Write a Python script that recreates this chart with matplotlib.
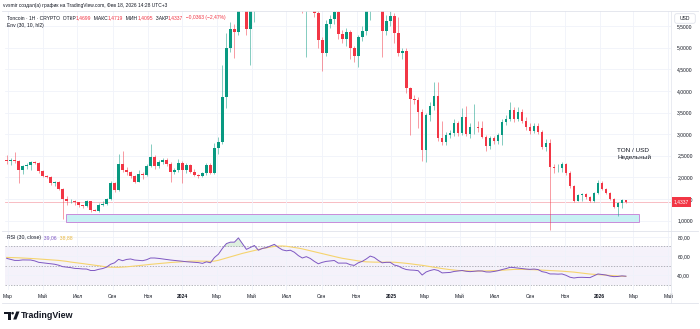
import matplotlib
matplotlib.use('Agg')
import matplotlib.pyplot as plt
import matplotlib.dates as mdates
import matplotlib.transforms as mtrans
from matplotlib.patches import Rectangle, Circle, Polygon, FancyBboxPatch
import numpy as np
import pandas as pd

plt.rcParams['font.family'] = ['Liberation Sans', 'DejaVu Sans']

# ---------------- data (weekly TON/USD) ----------------
first_week = '2023-02-27'
opens = [2.40, 2.38, 2.39, 2.37, 2.17, 2.26, 2.28, 2.35, 2.34, 2.14,
         2.04, 2.01, 1.86, 1.88, 1.74, 1.50, 1.44, 1.45, 1.42, 1.35,
         1.33, 1.45, 1.25, 1.23, 1.37, 1.39, 1.50, 1.87, 1.71, 2.31,
         2.17, 2.12, 2.03, 1.90, 2.08, 2.06, 2.26, 2.48, 2.26, 2.35,
         2.40, 2.31, 2.13, 2.16, 2.32, 2.17, 2.28, 2.13, 2.05, 2.02,
         2.09, 2.28, 2.11, 2.68, 2.82, 3.87, 4.99, 5.43, 5.37, 5.95,
         6.40, 5.43, 6.20, 6.50, 6.40, 6.50, 6.60, 7.20, 7.70, 7.50,
         7.30, 7.00, 7.40, 7.20, 6.80, 6.30, 6.40, 6.50, 5.80, 5.18,
         4.88, 5.56, 5.66, 5.83, 5.31, 5.20, 5.37, 5.00, 4.81, 5.25,
         5.39, 6.20, 6.40, 6.20, 5.95, 5.39, 5.62, 5.73, 5.33, 4.87,
         4.93, 4.06, 3.81, 3.78, 3.52, 2.63, 3.44, 3.66, 3.88, 2.91,
         2.82, 2.98, 3.02, 3.26, 3.02, 3.40, 3.00, 3.16, 3.17, 3.15,
         2.94, 2.72, 2.90, 2.85, 2.98, 3.29, 3.36, 3.56, 3.34, 3.52,
         3.31, 3.17, 3.08, 3.19, 3.06, 2.71, 2.79, 2.25, 2.21, 2.22,
         2.31, 2.11, 1.80, 1.46, 1.59, 1.61, 1.55, 1.44, 1.64, 1.86,
         1.73, 1.64, 1.49, 1.32, 1.40, 1.4699]
highs = [2.52, 2.44, 2.58, 2.40, 2.29, 2.33, 2.37, 2.37, 2.36, 2.16,
         2.06, 2.03, 1.92, 1.91, 1.76, 1.56, 1.49, 1.47, 1.43, 1.37,
         1.48, 1.46, 1.27, 1.40, 1.45, 1.53, 1.92, 1.90, 2.54, 2.60,
         2.25, 2.15, 2.06, 2.16, 2.12, 2.30, 2.77, 2.52, 2.40, 2.45,
         2.44, 2.36, 2.22, 2.43, 2.38, 2.33, 2.30, 2.20, 2.08, 2.12,
         2.32, 2.33, 2.80, 2.94, 4.60, 5.34, 5.60, 5.55, 7.20, 6.80,
         6.50, 6.50, 6.90, 6.80, 6.80, 6.90, 7.50, 8.10, 8.20, 7.90,
         7.60, 7.60, 7.70, 7.40, 7.10, 6.60, 6.80, 7.00, 5.95, 5.25,
         5.65, 5.75, 5.95, 5.95, 5.40, 5.45, 5.42, 5.05, 5.30, 5.50,
         6.60, 6.90, 6.70, 6.40, 6.00, 5.75, 5.85, 5.80, 5.70, 5.00,
         5.00, 4.10, 3.90, 3.85, 3.58, 3.50, 3.75, 4.21, 4.21, 3.30,
         3.05, 3.10, 3.35, 3.30, 3.60, 3.65, 3.25, 3.70, 3.30, 3.30,
         2.98, 2.95, 2.95, 3.02, 3.35, 3.45, 3.75, 3.62, 3.62, 3.58,
         3.40, 3.25, 3.25, 3.25, 3.10, 2.88, 2.88, 2.30, 2.30, 2.35,
         2.33, 2.15, 1.83, 1.62, 1.63, 1.63, 1.57, 1.66, 1.94, 1.92,
         1.75, 1.66, 1.51, 1.43, 1.50, 1.4719]
lows = [2.30, 2.28, 2.33, 1.87, 2.08, 2.20, 2.18, 2.30, 2.10, 2.00,
        1.98, 1.83, 1.80, 1.70, 1.04, 1.36, 1.40, 1.36, 1.32, 1.30,
        1.31, 1.20, 1.21, 1.20, 1.34, 1.36, 1.48, 1.66, 1.69, 2.12,
        2.05, 1.98, 1.87, 1.88, 1.96, 2.03, 2.24, 2.20, 2.22, 2.30,
        2.27, 1.90, 2.08, 2.12, 1.87, 2.10, 2.10, 2.02, 1.99, 2.00,
        2.05, 2.08, 2.08, 2.55, 2.78, 3.60, 4.90, 4.76, 5.30, 5.85,
        5.30, 4.60, 5.60, 6.00, 6.10, 6.20, 6.40, 6.90, 7.00, 6.90,
        6.40, 6.50, 6.90, 6.40, 5.80, 4.79, 6.00, 5.70, 5.00, 4.47,
        4.80, 5.45, 5.55, 5.20, 5.10, 5.05, 4.75, 4.68, 4.56, 5.15,
        5.30, 5.65, 5.90, 5.85, 4.79, 5.30, 5.50, 5.10, 4.80, 4.75,
        3.95, 2.98, 3.70, 3.14, 2.38, 2.36, 3.30, 3.55, 2.85, 2.75,
        2.75, 2.90, 2.95, 2.95, 2.98, 2.95, 2.92, 3.00, 3.05, 2.90,
        2.62, 2.65, 2.78, 2.78, 2.75, 3.20, 3.30, 3.28, 3.30, 3.25,
        3.10, 3.00, 3.02, 3.00, 2.65, 2.60, 0.78, 2.10, 2.12, 2.12,
        2.05, 1.76, 1.43, 1.44, 1.46, 1.50, 1.42, 1.42, 1.62, 1.70,
        1.62, 1.47, 1.30, 1.11, 1.30, 1.4095]
closes = [2.38, 2.39, 2.37, 2.17, 2.26, 2.28, 2.35, 2.34, 2.14, 2.04,
          2.01, 1.86, 1.88, 1.74, 1.50, 1.44, 1.45, 1.42, 1.35, 1.33,
          1.45, 1.25, 1.23, 1.37, 1.39, 1.50, 1.87, 1.71, 2.31, 2.17,
          2.12, 2.03, 1.90, 2.08, 2.06, 2.26, 2.48, 2.26, 2.35, 2.40,
          2.31, 2.13, 2.16, 2.32, 2.17, 2.28, 2.13, 2.05, 2.02, 2.09,
          2.28, 2.11, 2.68, 2.82, 3.87, 4.99, 5.43, 5.37, 5.95, 6.40,
          5.43, 6.20, 6.50, 6.40, 6.50, 6.60, 7.20, 7.70, 7.50, 7.30,
          7.00, 7.40, 7.20, 6.80, 6.30, 6.40, 6.50, 5.80, 5.18, 4.88,
          5.56, 5.66, 5.83, 5.31, 5.20, 5.37, 5.00, 4.81, 5.25, 5.39,
          6.20, 6.40, 6.20, 5.95, 5.39, 5.62, 5.73, 5.33, 4.87, 4.93,
          4.06, 3.81, 3.78, 3.52, 2.63, 3.44, 3.66, 3.88, 2.91, 2.82,
          2.98, 3.02, 3.26, 3.02, 3.40, 3.00, 3.16, 3.17, 3.15, 2.94,
          2.72, 2.90, 2.85, 2.98, 3.29, 3.36, 3.56, 3.34, 3.52, 3.31,
          3.17, 3.08, 3.19, 3.06, 2.71, 2.79, 2.25, 2.21, 2.22, 2.31,
          2.11, 1.80, 1.46, 1.59, 1.61, 1.55, 1.44, 1.64, 1.86, 1.73,
          1.64, 1.49, 1.32, 1.40, 1.4699, 1.4337]
rsi = [57.6, 56.5, 55.5, 55.5, 56.0, 56.0, 55.9, 55.0, 53.5, 53.0,
       52.5, 52.0, 51.5, 50.5, 49.0, 48.5, 48.0, 47.2, 47.0, 46.6,
       46.5, 45.0, 45.0, 46.2, 47.0, 48.5, 51.5, 53.0, 56.6, 55.2,
       56.5, 57.0, 55.9, 55.5, 55.2, 56.2, 58.0, 58.0, 57.6, 57.0,
       56.5, 55.9, 55.5, 55.0, 54.6, 54.1, 53.8, 53.5, 53.2, 52.4,
       54.0, 53.0, 58.5, 62.0, 68.0, 73.0, 74.5, 74.5, 78.9, 73.0,
       67.0, 69.0, 71.0, 66.1, 68.0, 68.8, 70.5, 72.2, 69.0, 66.5,
       65.5, 66.1, 64.0, 60.5, 58.0, 59.4, 57.5, 54.5, 52.0, 53.5,
       54.5, 55.0, 55.4, 52.7, 52.7, 52.7, 51.0, 50.3, 53.0, 54.5,
       57.0, 60.0, 58.6, 55.5, 53.0, 53.5, 53.5, 50.7, 49.7, 47.5,
       46.0, 45.5, 45.3, 44.8, 40.3, 43.5, 45.0, 46.0, 45.0, 42.5,
       42.8, 43.0, 44.0, 44.5, 45.0, 44.2, 43.8, 44.2, 44.6, 44.5,
       43.5, 43.4, 44.0, 44.8, 46.0, 47.0, 48.3, 48.0, 47.5, 47.0,
       46.5, 46.2, 46.5, 46.0, 43.8, 43.0, 41.4, 41.4, 41.2, 41.4,
       40.0, 38.0, 37.2, 37.8, 37.9, 37.8, 37.6, 39.5, 41.4, 40.8,
       40.3, 39.2, 38.6, 38.8, 39.4, 39.06]
rsi_ma = [58.6, 58.5, 58.3, 58.2, 58.0, 57.9, 57.6, 57.3, 57.0, 56.7,
          56.4, 56.1, 55.9, 55.5, 55.0, 54.5, 53.8, 53.3, 52.8, 52.2,
          51.6, 51.0, 50.5, 50.0, 49.3, 48.7, 48.4, 48.3, 48.3, 48.5,
          48.8, 49.2, 49.6, 50.0, 50.5, 51.0, 51.4, 51.8, 52.2, 52.6,
          53.0, 53.3, 53.6, 53.9, 54.2, 54.5, 54.7, 54.8, 54.8, 54.7,
          54.6, 54.5, 54.8, 55.6, 56.8, 58.0, 59.2, 60.3, 61.5, 62.8,
          63.8, 64.8, 65.8, 66.8, 67.8, 68.6, 69.4, 70.0, 70.4, 70.5,
          70.2, 69.6, 69.0, 68.3, 67.5, 66.5, 65.5, 64.5, 63.5, 62.5,
          61.5, 60.6, 59.6, 58.6, 57.7, 57.0, 56.3, 55.6, 55.0, 54.4,
          54.0, 53.8, 53.7, 53.7, 53.7, 53.7, 53.8, 53.6, 53.3, 52.9,
          52.5, 52.0, 51.4, 50.9, 50.4, 49.7, 49.0, 48.3, 47.6, 47.0,
          46.4, 45.9, 45.4, 45.0, 44.8, 44.6, 44.4, 44.3, 44.3, 44.4,
          44.6, 44.7, 44.8, 45.0, 45.3, 45.6, 45.9, 46.1, 46.2, 46.2,
          46.1, 46.0, 45.8, 45.6, 45.4, 45.2, 45.0, 44.8, 44.6, 44.3,
          44.0, 43.7, 43.3, 42.8, 42.3, 41.8, 41.3, 41.0, 40.8, 40.5,
          40.2, 39.8, 39.4, 39.1, 39.0, 38.88]

zone_start, zone_end = '2023-06-11', '2026-03-11'
zone_low, zone_high = 0.975, 1.15
last_price = 1.4337

price_ticks = [1.0, 1.5, 2.0, 2.5, 3.0, 3.5, 4.0, 4.5, 5.0, 5.5]
price_tick_labels = ['1,0000', '1,5000', '2,0000', '2,5000', '3,0000',
                     '3,5000', '4,0000', '4,5000', '5,0000', '5,5000']
rsi_ticks = [40, 60, 80]
rsi_tick_labels = ['40,00', '60,00', '80,00']
month_ticks = ['2023-03-01', '2023-05-01', '2023-07-01', '2023-09-01', '2023-11-01',
               '2024-01-01', '2024-03-01', '2024-05-01', '2024-07-01', '2024-09-01',
               '2024-11-01', '2025-01-01', '2025-03-01', '2025-05-01', '2025-07-01',
               '2025-09-01', '2025-11-01', '2026-01-01', '2026-03-01', '2026-05-01']
month_labels = ['Мар', 'Май', 'Июл', 'Сен', 'Ноя', '2024', 'Мар', 'Май', 'Июл', 'Сен',
                'Ноя', '2025', 'Мар', 'Май', 'Июл', 'Сен', 'Ноя', '2026', 'Мар', 'Май']

# ---------------- styling ----------------
UP, DOWN = '#089981', '#f23645'
TXT = '#131722'
GRID = '#f0f3fa'
PURPLE = '#7e57c2'
YEL = '#f5d46e'

W, H = 700, 329
fig = plt.figure(figsize=(7.0, 3.29), dpi=100)
fig.patch.set_facecolor('white')

L, R = 5, 671
TOP, MID, BOT = 11, 231, 290

ax = fig.add_axes([L / W, 1 - MID / H, (R - L) / W, (MID - TOP) / H])
ax2 = fig.add_axes([L / W, 1 - BOT / H, (R - L) / W, (BOT - MID) / H], sharex=ax)

dates = pd.date_range(first_week, periods=len(closes), freq='7D')
o = np.array(opens); h = np.array(highs); lo = np.array(lows); c = np.array(closes)
up = c >= o
body_col = np.where(up, UP, DOWN)

ax.vlines(dates, lo, h, colors=body_col, lw=0.7, alpha=0.5, zorder=3)
body_h = np.maximum(np.abs(c - o), 0.015)
ax.bar(dates, body_h, bottom=np.minimum(o, c), width=4.6, color=body_col,
       edgecolor='none', zorder=4)

x0 = mdates.date2num(pd.Timestamp(zone_start))
x1 = mdates.date2num(pd.Timestamp(zone_end))
ax.add_patch(Rectangle((x0, zone_low), x1 - x0, zone_high - zone_low,
                       facecolor='#c8f1f4', edgecolor='#c98bda', lw=0.7, zorder=2))
ax.axhline(last_price, color='#f7b2b9', lw=0.6, zorder=1)

ax.set_xlim(pd.Timestamp('2023-02-24'), pd.Timestamp('2026-05-06'))
ax.set_ylim(0.757, 5.85)
ax.set_yticks(price_ticks)
ax.set_yticklabels(price_tick_labels)
ax.yaxis.tick_right()
ax.tick_params(axis='y', length=0, pad=4.5, labelsize=3.6, labelcolor=TXT)
ax.tick_params(axis='x', length=0, labelbottom=False)
ax.grid(True, color=GRID, lw=0.6, zorder=0)
for s in ax.spines.values():
    s.set_visible(False)

# price tag
tr = mtrans.blended_transform_factory(ax.transAxes, ax.transData)
ax.text(1.0045, last_price, '1,4337', transform=tr, fontsize=3.6, color='white',
        va='center', ha='left', clip_on=False, zorder=20,
        bbox=dict(boxstyle='square,pad=0.45', fc=DOWN, ec='none'))

# RSI pane
ax2.axhspan(30, 70, color=PURPLE, alpha=0.075, lw=0, zorder=0)
for lvl in (70, 50, 30):
    ax2.axhline(lvl, color='#9598a1', lw=0.5, dashes=(2, 2), zorder=1)
r = np.array(rsi)
ax2.fill_between(dates, 70, r, where=r > 70, interpolate=True, color='#4caf50',
                 alpha=0.18, lw=0, zorder=2)
ax2.plot(dates, rsi_ma, color=YEL, lw=0.8, zorder=3)
ax2.plot(dates, rsi, color=PURPLE, lw=0.7, zorder=4)
ax2.set_ylim(24.7, 86.1)
ax2.set_yticks(rsi_ticks)
ax2.set_yticklabels(rsi_tick_labels)
ax2.yaxis.tick_right()
ax2.tick_params(axis='y', length=0, pad=4.5, labelsize=3.6, labelcolor=TXT)
ax2.set_xticks([pd.Timestamp(d) for d in month_ticks])
ax2.set_xticklabels(month_labels)
ax2.tick_params(axis='x', length=0, pad=3.2, labelsize=3.6, labelcolor=TXT)
for lab in ax2.get_xticklabels():
    if lab.get_text().isdigit():
        lab.set_fontweight('bold')
ax2.grid(True, axis='x', color=GRID, lw=0.6, zorder=0)
ax2.grid(True, axis='y', color=GRID, lw=0.6, zorder=0)
for s in ax2.spines.values():
    s.set_visible(False)

# overlay in pixel coordinates
ov = fig.add_axes([0, 0, 1, 1], zorder=10)
ov.set_xlim(0, W); ov.set_ylim(H, 0); ov.axis('off'); ov.patch.set_alpha(0)

BORD = '#e0e3eb'
ov.plot([2, 698], [TOP, TOP], color=BORD, lw=0.6)
ov.plot([2, 698], [MID, MID], color=BORD, lw=0.6)
ov.plot([2, 698], [303, 303], color=BORD, lw=0.6)
ov.plot([R, R], [TOP, 303], color=BORD, lw=0.5)

ov.text(3, 6, 'vvsmir создал(а) график на TradingView.com, Фев 18, 2026 14:28 UTC+3',
        fontsize=3.5, color=TXT, va='center', ha='left')


def chain(parts, x, y, size):
    t = ov.text(x, y, parts[0][0], color=parts[0][1], fontsize=size,
                va='center', ha='left')
    for s, col in parts[1:]:
        t = ov.annotate(s, xy=(1, 0.5), xycoords=t, va='center', ha='left',
                        color=col, fontsize=size)
    return t


chain([('Toncoin · 1Н · CRYPTO', TXT), ('  ОТКР', TXT), ('1,4699', DOWN),
       ('  МАКС', TXT), ('1,4719', DOWN), ('  МИН', TXT), ('1,4095', DOWN),
       ('  ЗАКР', TXT), ('1,4337', DOWN), ('  −0,0363 (−2,47%)', DOWN)],
      7, 18, 3.6)
ov.text(7, 25, 'Env (30, 10, hl2)', fontsize=3.6, color=TXT, va='center', ha='left')
chain([('RSI (30, close)', TXT), ('  39,06', PURPLE), ('  38,88', '#e9b73e')],
      7, 238, 3.7)

ov.text(617, 150, 'TON / USD', fontsize=4.6, color=TXT, va='center', ha='left')
ov.text(617, 157.5, 'Недельный', fontsize=4.6, color=TXT, va='center', ha='left')

ov.add_patch(FancyBboxPatch((675, 14), 20, 9, boxstyle='round,pad=0.3,rounding_size=2',
                            fc='white', ec=BORD, lw=0.6))
ov.text(685, 18.7, 'USD', fontsize=3.6, color=TXT, va='center', ha='center')

# TradingView logo
ov.add_patch(Rectangle((4, 311.5), 6.5, 2.3, fc=TXT, ec='none'))
ov.add_patch(Rectangle((7.8, 311.5), 2.7, 8, fc=TXT, ec='none'))
ov.add_patch(Circle((12.6, 313.2), 1.3, fc=TXT, ec='none'))
ov.add_patch(Polygon([(13.2, 319.5), (16.3, 311.5), (19.5, 311.5), (16.4, 319.5)],
                     closed=True, fc=TXT, ec='none'))
ov.text(21, 315.5, 'TradingView', fontsize=6.4, fontweight='bold', color=TXT,
        va='center', ha='left')

fig.savefig('out.png', dpi=100, facecolor='white')
